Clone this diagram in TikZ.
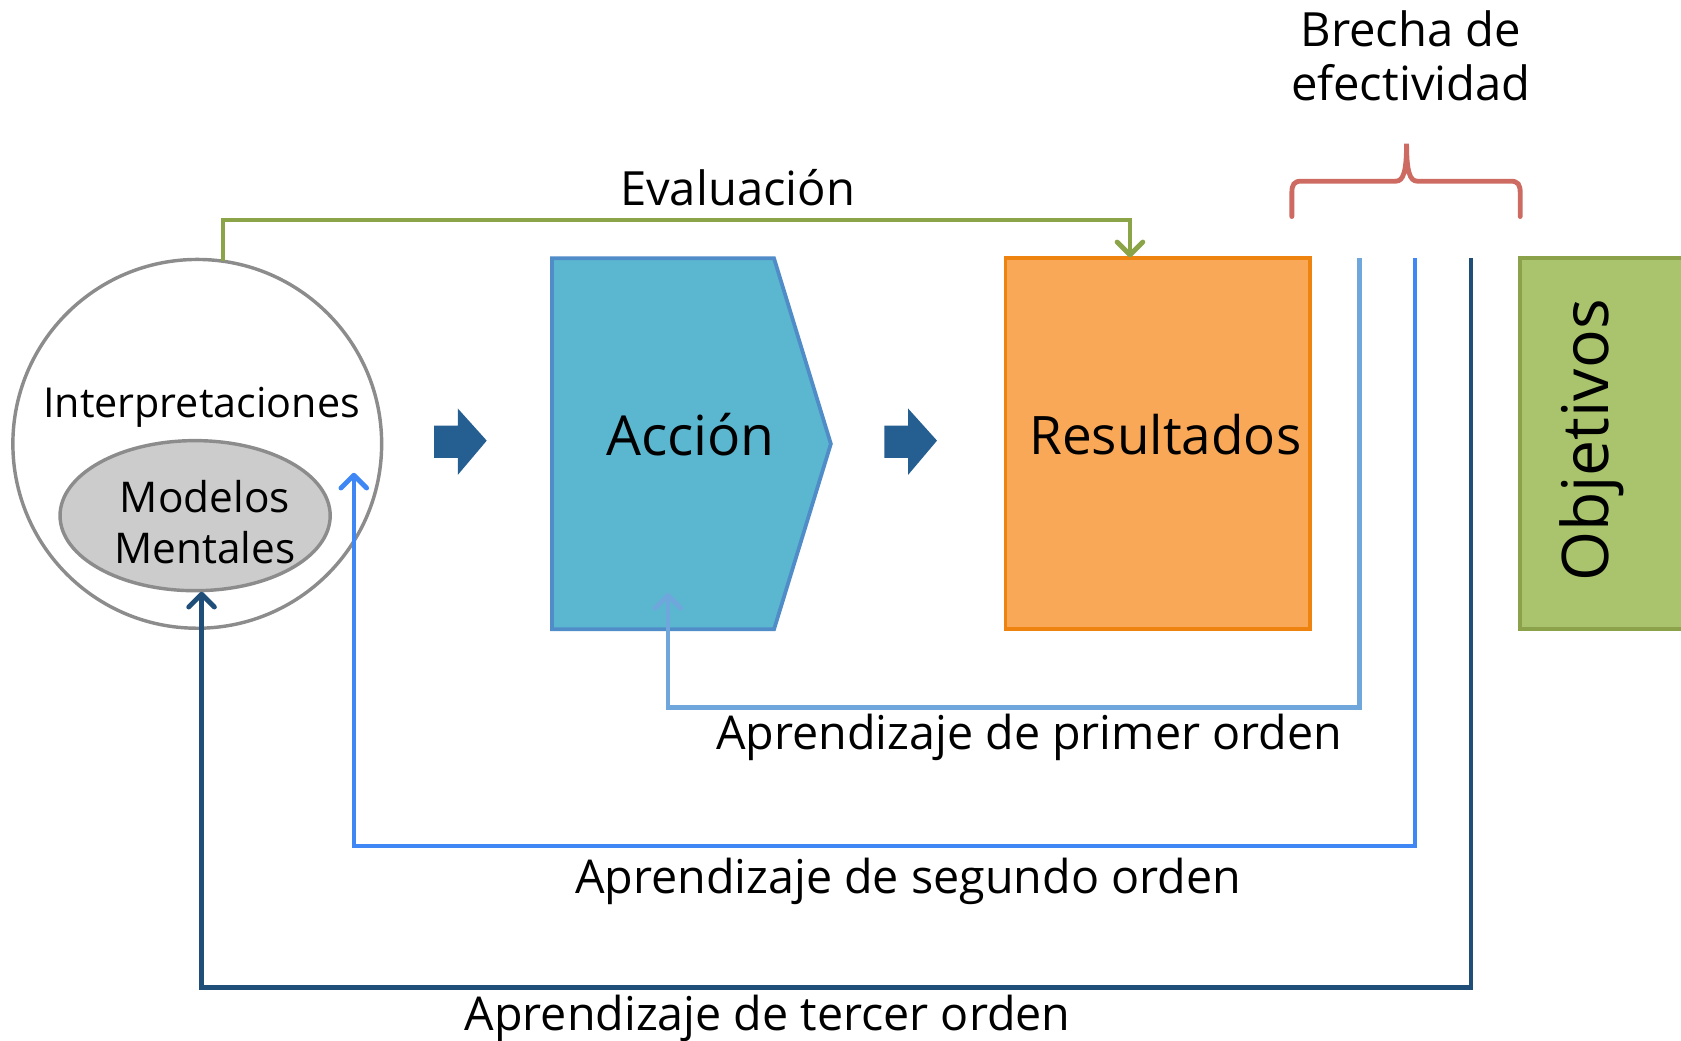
\documentclass[tikz,border=0pt]{standalone}
\usepackage{fontspec}
\setmainfont{Open Sans}
\usetikzlibrary{arrows.meta,shapes.geometric}
\definecolor{cgray}{RGB}{140,140,140}
\definecolor{cellfill}{RGB}{204,204,204}
\definecolor{cblock}{RGB}{37,94,145}
\definecolor{caccfill}{RGB}{91,183,208}
\definecolor{caccdraw}{RGB}{79,140,200}
\definecolor{cresfill}{RGB}{249,168,87}
\definecolor{cresdraw}{RGB}{238,131,16}
\definecolor{cobjfill}{RGB}{169,196,108}
\definecolor{cobjdraw}{RGB}{139,162,74}
\definecolor{cl1}{RGB}{111,167,220}
\definecolor{cl2}{RGB}{63,135,245}
\definecolor{cl3}{RGB}{31,78,121}
\definecolor{ceval}{RGB}{139,164,72}
\definecolor{cbrace}{RGB}{205,107,98}
\tikzset{
  lbl/.style={font=\fontsize{43.5}{51}\selectfont, inner sep=0pt, text=black},
  conn/.style={line width=4.2pt},
  tipa/.style={-{Straight Barb[length=12pt,width=24pt,line width=4.5pt,round]}},
  blockarrow/.style={fill=cblock, draw=none},
}
\begin{document}
\begin{tikzpicture}[x=1pt,y=-1pt]
\useasboundingbox (0,0) rectangle (1568,971);
% circle and ellipse
\node[circle, draw=cgray, line width=3.2pt, minimum size=344pt, inner sep=0pt] (circ) at (184,414) {};
\node[ellipse, draw=cgray, fill=cellfill, line width=3.2pt, minimum width=252pt, minimum height=140pt, inner sep=0pt] (ell) at (182,481) {};
\node[font=\fontsize{38.5}{48}\selectfont, inner sep=0pt] (interp) at (188,380) {Interpretaciones};
\node[font=\fontsize{39.5}{48}\selectfont, inner sep=0pt, align=center] (modelos) at (191,487) {Modelos\\Mentales};
% block arrows
\path[blockarrow] (405,397) -- (427,397) -- (427,381) -- (454,411) -- (427,443) -- (427,427) -- (405,427) -- cycle;
\path[blockarrow] (825,397) -- (847,397) -- (847,381) -- (874,411) -- (847,443) -- (847,427) -- (825,427) -- cycle;
% Accion
\draw[fill=caccfill, draw=caccdraw, line width=3.5pt] (515,241) -- (722,241) -- (775,414) -- (722,587) -- (515,587) -- cycle;
\node[font=\fontsize{51.5}{56}\selectfont, inner sep=0pt] (acc) at (644,405) {Acción};
% Resultados
\node[draw=cresdraw, fill=cresfill, line width=3.5pt, minimum width=284pt, minimum height=346pt, inner sep=0pt] (res) at (1080,414) {};
\node[font=\fontsize{49.5}{56}\selectfont, inner sep=0pt] (restxt) at (1087,405) {Resultados};
% Objetivos
\node[draw=cobjdraw, fill=cobjfill, line width=3.5pt, minimum width=170pt, minimum height=346pt, inner sep=0pt] (obj) at (1503,414) {};
\node[font=\fontsize{60}{64}\selectfont, inner sep=0pt, rotate=90] (objtxt) at (1485,411) {Objetivos};
% vertical lines
\coordinate (v1t) at (1268,241); \coordinate (v1b) at (1268,660);
\coordinate (v2t) at (1320,241); \coordinate (v2b) at (1320,789);
\coordinate (v3t) at (1372,241); \coordinate (v3b) at (1372,921);
\coordinate (t1) at (623,553);
\coordinate (t2) at (330,441);
\coordinate (t3) at (188,552);
\draw[conn, cl1, tipa] (v1t) -- (v1b) -| (t1);
\draw[conn, cl2, tipa] (v2t) -- (v2b) -| (t2);
\draw[conn, cl3, tipa] (v3t) -- (v3b) -| (t3);
% evaluation
\coordinate (e0) at (208,243);
\coordinate (e1) at (208,205);
\coordinate (e2) at (1054,240);
\draw[conn, ceval, tipa] (e0) -- (e1) -| (e2);
\node[lbl, font=\fontsize{44}{51}\selectfont] (eval) at (688,175) {Evaluación};
% labels
\node[lbl] (a1) at (960,688) {Aprendizaje de primer orden};
\node[lbl] (a2) at (847,822) {Aprendizaje de segundo orden};
\node[lbl] (a3) at (716,950) {Aprendizaje de tercer orden};
% brace
\draw[cbrace, line width=4.5pt, line cap=round]
  (1205,202) -- (1205,180) .. controls (1205,172) and (1207,169) .. (1214,169)
  -- (1302,169) .. controls (1309,169) and (1312,160) .. (1312,134)
  .. controls (1312,160) and (1315,169) .. (1322,169)
  -- (1409,169) .. controls (1416,169) and (1418,172) .. (1418,180) -- (1418,202);
\node[lbl, font=\fontsize{44}{51}\selectfont, align=center] (brecha) at (1316,52) {Brecha de\\efectividad};
\end{tikzpicture}
\end{document}
